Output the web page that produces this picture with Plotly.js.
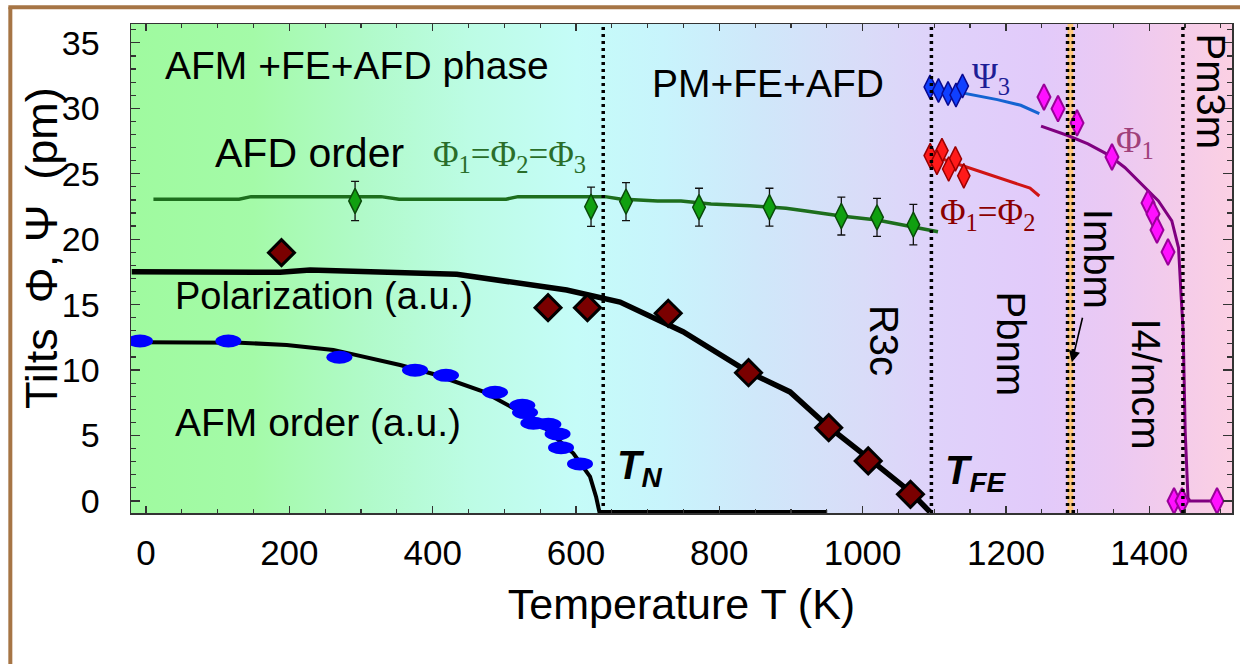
<!DOCTYPE html>
<html><head><meta charset="utf-8">
<script src="https://cdn.plot.ly/plotly-3.0.1.min.js"></script>
<style>html,body{margin:0;padding:0;background:#fff;}#chart{width:1240px;height:664px;}</style>
</head><body><div id="chart"></div>
<script>
// ---------------- data (temperature T in K, tilts in pm / a.u.) ----------------
const xRange = [-21, 1515.5];
const yRange = [-0.92, 36.44];

// background phase colouring stops
const bgT = [-21, 150, 300, 450, 600, 720, 850, 1000, 1100, 1250, 1350, 1450, 1515.5];
const bgColors = ['#9ffa9f', '#a4faa8', '#b0fac8', '#bcfce4', '#c5fcf8', '#c8f4fc', '#cfe8fa',
                  '#d9dcf8', '#dfd2fa', '#e2cafa', '#ebc9f3', '#f5cce9', '#fbd0e3'];
const imbmBand = [1286, 1294];
const boundaryT = [638, 1096, 1286, 1294, 1447];

// AFD tilt Phi1=Phi2=Phi3 (green)
const afdLineT = [10.3, 129.8, 146.5, 327.9, 353.1, 502.4, 519.1, 640.5, 661.5, 713.8, 746.6, 788.4, 842.8, 893.1, 921, 969.9, 1020.1, 1069.6, 1105.2];
const afdLineV = [23.05, 23.05, 23.25, 23.25, 23.05, 23.05, 23.25, 23.25, 23.07, 22.92, 22.92, 22.69, 22.56, 22.36, 22.15, 21.77, 21.47, 20.95, 20.57];
const afdDataT = [291.7, 621, 669.8, 771.7, 870, 970.3, 1020.1, 1070.8];
const afdDataV = [22.92, 22.48, 22.87, 22.44, 22.44, 21.77, 21.67, 21.11];
const afdErr   = [1.5, 1.5, 1.45, 1.45, 1.45, 1.45, 1.45, 1.55];

// Polarization (black line + dark red diamonds)
const polLineT = [-20, 187, 229, 433.6, 587, 633.5, 661.5, 749.4, 840.8, 898.7, 952.7, 1009, 1066.8, 1094];
const polLineV = [17.52, 17.47, 17.65, 17.32, 16.12, 15.56, 15.20, 12.93, 9.85, 8.33, 5.65, 3.23, 0.69, -0.84];
const polDataT = [189, 561, 616, 728.7, 840.8, 952.7, 1007.8, 1066.8];
const polDataV = [18.97, 14.77, 14.77, 14.34, 9.80, 5.60, 3.06, 0.51];

// AFM order (black line + blue ellipses)
const afmLineT = [-5, 131.2, 196.3, 261.4, 354.5, 400.9, 470.7, 517.3, 554.4, 596.3, 619.6, 628, 632.6, 950.6];
const afmLineV = [12.12, 12.09, 11.92, 11.54, 10.39, 9.70, 8.35, 6.95, 5.68, 3.64, 1.86, 0.33, -0.82, -0.85];
const afmDataT = [-8.4, 114.9, 269.8, 375.4, 418.6, 487, 525.1, 528.9, 540.5, 561.5, 574.3, 579.1, 605.6];
const afmDataV = [12.22, 12.22, 10.98, 9.99, 9.60, 8.30, 7.31, 6.75, 5.94, 5.86, 5.12, 4.07, 2.83];

// Psi3 (blue)
const psiDataT = [1094.1, 1105.9, 1119.2, 1130.3, 1139.4];
const psiDataV = [31.63, 31.36, 31.13, 31.02, 31.70];
const psiLineT = [1094.3, 1145.7, 1188, 1220.7, 1246.6];
const psiLineV = [31.64, 31.12, 30.66, 30.23, 29.59];

// Phi1=Phi2 (red)
const phi12DataT = [1094.3, 1110.7, 1103.7, 1129.5, 1120.1, 1141.2];
const phi12DataV = [26.39, 26.77, 25.87, 26.13, 25.36, 24.84];
const phi12LineT = [1096.7, 1145.7, 1188, 1216, 1233.6, 1246.6];
const phi12LineV = [26.39, 25.49, 24.72, 24.20, 23.9, 23.30];

// Phi1 (magenta / purple)
const phi1DataT = [1253.1, 1272.7, 1299.2, 1348, 1398.3, 1405.3, 1410.8, 1426.2, 1434.6, 1445.7, 1494.6];
const phi1DataV = [30.86, 29.97, 28.88, 26.28, 22.77, 21.93, 20.70, 19.02, 0, 0, 0];
const phi1LineT = [1249, 1286.3, 1314.5, 1342.4, 1365.9, 1389.3, 1412.8, 1431.5, 1440.9, 1444.8, 1447.4, 1450.2, 1454.1, 1456.9, 1494.6];
const phi1LineV = [28.64, 27.92, 27.28, 26.46, 25.48, 24.20, 22.92, 21.39, 19.34, 15.36, 12.91, 5.27, 0.23, 0, 0];

// ---------------- figure ----------------
const SANS = 'Liberation Sans, Arial, sans-serif';
const SERIF = 'Liberation Serif, Times New Roman, serif';
const span = xRange[1] - xRange[0];
const bgScale = bgT.map((t, i) => [(t - xRange[0]) / span, bgColors[i]]);
const rectX = (a, b) => [a, b, b, a, a];
const rectY = [yRange[0], yRange[0], yRange[1], yRange[1], yRange[0]];

const traces = [
  {type: 'scatter', mode: 'lines', x: rectX(xRange[0], xRange[1]), y: rectY, fill: 'toself',
   fillgradient: {type: 'horizontal', colorscale: bgScale}, line: {width: 0}, hoverinfo: 'skip'},
  {type: 'scatter', mode: 'lines', x: rectX(imbmBand[0], imbmBand[1]), y: rectY, fill: 'toself',
   fillcolor: '#ffc97e', line: {width: 0}, hoverinfo: 'skip'},
  // green AFD
  {type: 'scatter', mode: 'lines', x: afdLineT, y: afdLineV, line: {color: '#1d6e1d', width: 3.5}},
  {type: 'scatter', mode: 'markers', x: afdDataT, y: afdDataV,
   error_y: {type: 'data', array: afdErr, visible: true, color: '#111', thickness: 1.3, width: 4},
   marker: {symbol: 'diamond-tall', size: 18, color: '#10a010', line: {color: '#0a4a0a', width: 1.5}}},
  // polarization
  {type: 'scatter', mode: 'lines', x: polLineT, y: polLineV, line: {color: '#000', width: 5.5}, cliponaxis: false},
  {type: 'scatter', mode: 'markers', x: polDataT, y: polDataV,
   marker: {symbol: 'diamond', size: 20, color: '#7a0000', line: {color: '#000', width: 3}}},
  // AFM
  {type: 'scatter', mode: 'lines', x: afmLineT, y: afmLineV, line: {color: '#000', width: 4}, cliponaxis: false},
  // Psi3
  {type: 'scatter', mode: 'lines', x: psiLineT, y: psiLineV, line: {color: '#1464d2', width: 3}},
  {type: 'scatter', mode: 'markers', x: psiDataT, y: psiDataV,
   marker: {symbol: 'diamond-tall', size: 17, color: '#1040ff', line: {color: '#0a0a90', width: 1.5}}},
  // Phi1=Phi2
  {type: 'scatter', mode: 'lines', x: phi12LineT, y: phi12LineV, line: {color: '#d01414', width: 3}},
  {type: 'scatter', mode: 'markers', x: phi12DataT, y: phi12DataV,
   marker: {symbol: 'diamond-tall', size: 17.5, color: '#ff1a1a', line: {color: '#9a0000', width: 1.5}}},
  // Phi1
  {type: 'scatter', mode: 'lines', x: phi1LineT, y: phi1LineV, line: {color: '#800080', width: 3}},
  {type: 'scatter', mode: 'markers', x: phi1DataT, y: phi1DataV, cliponaxis: false,
   marker: {symbol: 'diamond-tall', size: 18.5, color: '#ff10ff', line: {color: '#9a009a', width: 2}}}
];

const shapes = [];
boundaryT.forEach(t => shapes.push({type: 'line', xref: 'x', yref: 'paper', x0: t, x1: t, y0: 0, y1: 1,
  line: {color: '#000', width: 3.5, dash: '3px,4px'}}));
afmDataT.forEach((t, i) => shapes.push({type: 'circle', xref: 'x', yref: 'y', xsizemode: 'pixel', ysizemode: 'pixel',
  xanchor: t, yanchor: afmDataV[i], x0: -13, x1: 13, y0: -6.5, y1: 6.5, fillcolor: '#0000ff', line: {width: 0}}));
// outer brown frame (top and left edges visible)
shapes.push({type: 'line', xref: 'paper', yref: 'paper', x0: -0.1096, x1: -0.1096, y0: -0.4, y1: 1.0344,
  line: {color: '#a67545', width: 4}});
shapes.push({type: 'line', xref: 'paper', yref: 'paper', x0: -0.1114, x1: 1.2, y0: 1.0344, y1: 1.0344,
  line: {color: '#a67545', width: 4}});

const ann = (text, x, y, o) => Object.assign({text, x, y, xref: 'x', yref: 'y', showarrow: false,
  xanchor: 'left', yanchor: 'middle', font: {family: SANS, size: 39, color: '#000'}}, o || {});
const annotations = [
  ann('AFM +FE+AFD phase', 23.7, 33.27, {font: {family: SANS, size: 39, color: '#000'}}),
  ann('AFD order', 93.5, 26.55, {font: {family: SANS, size: 41, color: '#000'}}),
  ann('Φ<sub>1</sub>=Φ<sub>2</sub>=Φ<sub>3</sub>', 397.7, 26.3, {font: {family: SERIF, size: 35, color: '#2a6e2a'}}),
  ann('Polarization (a.u.)', 37.7, 15.66, {font: {family: SANS, size: 38, color: '#000'}}),
  ann('AFM order (a.u.)', 37.7, 6.0),
  ann('PM+FE+AFD', 702.8, 31.93),
  ann('Ψ<sub>3</sub>', 1150, 32.3, {font: {family: SERIF, size: 35, color: '#1e1e96'}}),
  ann('Φ<sub>1</sub>', 1350.8, 27.4, {font: {family: SERIF, size: 35, color: '#a0407a'}}),
  ann('Φ<sub>1</sub>=Φ<sub>2</sub>', 1105.2, 21.9, {font: {family: SERIF, size: 35, color: '#8b0000'}}),
  ann('<b><i>T<sub>N</sub></i></b>', 654, 2.5, {font: {family: SANS, size: 40, color: '#000'}}),
  ann('<b><i>T<sub>FE</sub></i></b>', 1112, 2.1, {font: {family: SANS, size: 40, color: '#000'}}),
  ann('R3c', 1029.9, 12.3, {xanchor: 'center', textangle: 90, font: {family: SANS, size: 40, color: '#000'}}),
  ann('Pbnm', 1207, 11.96, {xanchor: 'center', textangle: 90, font: {family: SANS, size: 40, color: '#000'}}),
  ann('Imbm', 1328.5, 18.5, {xanchor: 'center', textangle: 90, font: {family: SANS, size: 40, color: '#000'}}),
  ann('I4/mcm', 1395.5, 8.98, {xanchor: 'center', textangle: 90, font: {family: SANS, size: 40, color: '#000'}}),
  ann('Pm3m', 1486.2, 31.28, {xanchor: 'center', textangle: 90, font: {family: SANS, size: 40, color: '#000'}}),
  {text: '', x: 1292, y: 10.6, xref: 'x', yref: 'y', showarrow: true, ax: 11, ay: -46,
   arrowhead: 2, arrowsize: 1.4, arrowwidth: 1.6, arrowcolor: '#000'},
  // y-axis title
  {text: 'Tilts\u00a0\u00a0Φ,\u00a0Ψ\u00a0\u00a0(pm)', xref: 'paper', yref: 'paper', x: -0.0808, y: 0.542,
   xanchor: 'center', yanchor: 'middle', textangle: -90, showarrow: false,
   font: {family: SANS, size: 45, color: '#000'}}
];

const layout = {
  width: 1240, height: 664,
  margin: {l: 131, r: 8, t: 24, b: 151},
  paper_bgcolor: '#fff', plot_bgcolor: '#fff',
  showlegend: false,
  font: {family: SANS, color: '#000'},
  xaxis: {range: xRange, tick0: 0, dtick: 200, ticks: 'inside', ticklen: 7, tickwidth: 1.2, tickcolor: '#333',
    minor: {dtick: 50, ticks: 'inside', ticklen: 4, tickcolor: '#333'},
    showline: true, linecolor: '#333', linewidth: 1.5, mirror: 'ticks', showgrid: false, zeroline: false,
    tickfont: {family: SANS, size: 35}, ticklabelstandoff: 8,
    title: {text: 'Temperature T (K)', font: {family: SANS, size: 43}, standoff: 18}},
  yaxis: {range: yRange, tick0: 0, dtick: 5, ticks: 'inside', ticklen: 9, tickwidth: 1.2, tickcolor: '#333',
    minor: {dtick: 1, ticks: 'inside', ticklen: 5, tickcolor: '#333'},
    showline: true, linecolor: '#333', linewidth: 1.5, mirror: 'ticks', showgrid: false, zeroline: false,
    tickfont: {family: SANS, size: 34}, ticklabelstandoff: 23},
  shapes, annotations
};

Plotly.newPlot('chart', traces, layout, {staticPlot: true});
</script></body></html>
